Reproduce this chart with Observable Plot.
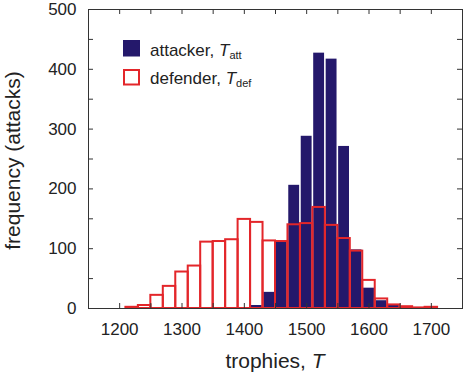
<!DOCTYPE html>
<html><head><meta charset="utf-8">
<script src="https://cdn.jsdelivr.net/npm/d3@7"></script>
<script src="https://cdn.jsdelivr.net/npm/@observablehq/plot@0.6"></script>
<style>
body{margin:0;background:#fff}
svg{display:block}
</style>
</head><body><div id="chart"></div>
<script>
const binCenters = [1220,1240,1260,1280,1300,1320,1340,1360,1380,1400,1420,1440,1460,1480,1500,1520,1540,1560,1580,1600,1620,1640,1660,1680,1700];
const defender   = [2,5,22,37,61,71,111,112,115,149,144,113,112,140,142,169,139,117,96,47,16,6,3,1,2];
const attacker   = [0,0,0,0,0,0,0,0,0,0,5,27,111,206,288,427,417,271,98,34,13,5,1,0,0];
const binWidth = 20;
const xTicks = [1200,1300,1400,1500,1600,1700];
const yTicks = [0,100,200,300,400,500];
const xMinor = [1150,1200,1250,1300,1350,1400,1450,1500,1550,1600,1650,1700,1750];
const yMinor = [0,50,100,150,200,250,300,350,400,450,500];
const seriesNames = ["attacker", "defender"];
const seriesSubs = ["att", "def"];
const navy = "#24186b";
const red = "#e3262a";

const W = 466, H = 375, mL = 88, mR = 4, mT = 9, mB = 67;
const pW = W - mL - mR, pH = H - mT - mB;

const rows = binCenters.map((c, i) => ({c, att: attacker[i], def: defender[i]}));

const chart = Plot.plot({
  width: W, height: H,
  marginLeft: mL, marginRight: mR, marginTop: mT, marginBottom: mB,
  x: {domain: [1150, 1750]},
  y: {domain: [0, 500]},
  style: {fontFamily: "'Liberation Sans', Arial, sans-serif", fontSize: "17px", color: "#222", background: "#fff"},
  marks: [
    Plot.rect(rows.filter(d => d.att > 0), {x1: d => d.c - binWidth/2, x2: d => d.c + binWidth/2, y1: 0, y2: "att", fill: navy, insetLeft: 0.8, insetRight: 0.8}),
    Plot.rect(rows.filter(d => d.def > 0), {x1: d => d.c - binWidth/2, x2: d => d.c + binWidth/2, y1: 0, y2: "def", fill: "none", stroke: red, strokeWidth: 2}),
    Plot.frame({stroke: "#333", strokeWidth: 1}),
    Plot.tickX(xMinor, {x: d => d, insetTop: pH - 5, stroke: "#333"}),
    Plot.tickX(xMinor, {x: d => d, insetBottom: pH - 5, stroke: "#333"}),
    Plot.tickY(yMinor, {y: d => d, insetRight: pW - 5, stroke: "#333"}),
    Plot.tickY(yMinor, {y: d => d, insetLeft: pW - 5, stroke: "#333"}),
    Plot.axisX({ticks: xTicks, tickFormat: d3.format("d"), label: null, tickSize: 0, tickPadding: 14}),
    Plot.axisY({ticks: yTicks, tickFormat: d3.format("d"), label: null, tickSize: 0, tickPadding: 12})
  ]
});

const svg = d3.select(chart);
const font = "'Liberation Sans', Arial, sans-serif";
// axis titles
const xt = svg.append("text").attr("x", mL + pW/2).attr("y", 368).attr("text-anchor", "middle")
  .attr("font-family", font).attr("font-size", 21).attr("fill", "#222");
xt.append("tspan").text("trophies, ");
xt.append("tspan").attr("font-style", "italic").text("T");
svg.append("text").attr("transform", `translate(20,${mT + pH/2 + 2}) rotate(-90)`).attr("text-anchor", "middle")
  .attr("font-family", font).attr("font-size", 21).attr("fill", "#222").text("frequency (attacks)");

// legend
const lg = svg.append("g").attr("font-family", font).attr("font-size", 17).attr("fill", "#222").attr("text-anchor", "start");
lg.append("rect").attr("x", 123).attr("y", 40).attr("width", 17).attr("height", 16.5).attr("fill", navy);
lg.append("rect").attr("x", 124).attr("y", 70).attr("width", 15).attr("height", 14.5).attr("fill", "none").attr("stroke", red).attr("stroke-width", 2);
[56, 84].forEach((yb, i) => {
  const t = lg.append("text").attr("x", 150).attr("y", yb).attr("text-anchor", "start");
  t.append("tspan").text(seriesNames[i] + ", ");
  t.append("tspan").attr("font-style", "italic").text("T");
  t.append("tspan").attr("font-size", 11).attr("dy", 2.5).text(seriesSubs[i]);
});

document.getElementById("chart").appendChild(chart);
</script>
</body></html>
